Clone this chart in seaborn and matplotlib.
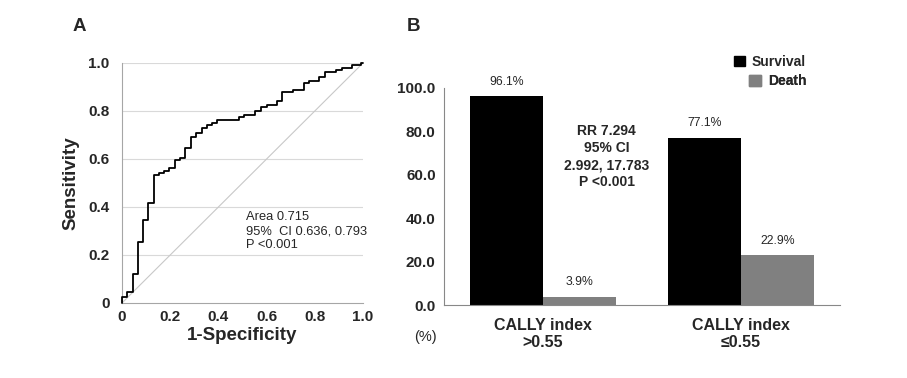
import numpy as np
import pandas as pd
import matplotlib
matplotlib.use("Agg")
import matplotlib.pyplot as plt
import seaborn as sns

sns.set_style("white")
plt.rcParams["font.family"] = ["Liberation Sans", "DejaVu Sans"]

# ---- Panel A: ROC curve ----
fpr = [0.0, 0.0, 0.022, 0.044, 0.068, 0.087, 0.109, 0.134, 0.153, 0.174, 0.197,
       0.220, 0.242, 0.263, 0.287, 0.307, 0.331, 0.352, 0.374, 0.396, 0.487,
       0.508, 0.553, 0.577, 0.600, 0.642, 0.664, 0.708, 0.754, 0.777, 0.818,
       0.842, 0.887, 0.911, 0.956, 0.990, 1.0]
tpr = [0.0, 0.025, 0.044, 0.121, 0.254, 0.346, 0.415, 0.533, 0.543, 0.552, 0.564,
       0.596, 0.606, 0.647, 0.690, 0.710, 0.730, 0.740, 0.751, 0.762, 0.773,
       0.783, 0.802, 0.815, 0.825, 0.842, 0.881, 0.888, 0.918, 0.924, 0.943,
       0.962, 0.971, 0.981, 0.992, 1.0, 1.0]
chance = [0.0, 1.0]
roc_ticks = [0, 0.2, 0.4, 0.6, 0.8, 1.0]
roc_ticklabels = ["0", "0.2", "0.4", "0.6", "0.8", "1.0"]
roc_text = "Area 0.715\n95%  CI 0.636, 0.793\nP <0.001"

# ---- Panel B: outcome by CALLY index ----
groups = ["CALLY index\n>0.55", "CALLY index\n\u22640.55"]
survival = [96.1, 77.1]
death = [3.9, 22.9]
outcomes = ["Survival", "Death"]
bar_colors = {"Survival": "#000000", "Death": "#808080"}
pct_ticks = [0, 20, 40, 60, 80, 100]
rr_text = "RR 7.294\n95% CI\n2.992, 17.783\nP <0.001"

df_roc = pd.DataFrame({"fpr": fpr, "tpr": tpr})
df_bar = pd.DataFrame({
    "group": groups * 2,
    "outcome": ["Survival"] * 2 + ["Death"] * 2,
    "value": survival + death,
})

W, H = 907, 378
fig = plt.figure(figsize=(W / 100, H / 100), dpi=100)

# =================== A ===================
axA = fig.add_axes([122 / W, 1 - 303 / H, 241 / W, 240 / H])
for y in roc_ticks[1:]:
    axA.axhline(y, color="#d9d9d9", lw=0.8, zorder=0)
axA.plot(chance, chance, color="#c8c8c8", lw=0.8, zorder=1)
sns.lineplot(data=df_roc, x="fpr", y="tpr", ax=axA, sort=False, estimator=None,
             drawstyle="steps-post", color="black", lw=1.3, clip_on=False, zorder=3)
axA.set_xlim(0, 1)
axA.set_ylim(0, 1)
axA.set_xticks(roc_ticks)
axA.set_xticklabels(roc_ticklabels)
axA.set_yticks(roc_ticks)
axA.set_yticklabels(roc_ticklabels)
axA.tick_params(axis="both", length=0, labelsize=11)
axA.tick_params(axis="y", pad=9)
axA.tick_params(axis="x", pad=5)
for lab in axA.get_xticklabels() + axA.get_yticklabels():
    lab.set_fontweight("bold")
axA.set_xlabel("1-Specificity", fontsize=13.5, fontweight="bold", labelpad=2)
axA.set_ylabel("Sensitivity", fontsize=13.5, fontweight="bold", labelpad=6)
for s in ["top", "right"]:
    axA.spines[s].set_visible(False)
for s in ["left", "bottom"]:
    axA.spines[s].set_color("#a6a6a6")
    axA.spines[s].set_linewidth(0.8)
axA.text(0.513, 0.30, roc_text, fontsize=9.3, ha="left", va="center",
         linespacing=1.2)

# =================== B ===================
axB = fig.add_axes([444 / W, 1 - 305.3 / H, 396 / W, 217.6 / H])
sns.barplot(data=df_bar, x="group", y="value", hue="outcome", hue_order=outcomes,
            palette=bar_colors, width=0.74, gap=0, ax=axB, linewidth=0,
            legend=False)
for cont in axB.containers:
    axB.bar_label(cont, labels=[f"{b.get_height():.1f}%" for b in cont],
                  padding=6, fontsize=8.8)
axB.set_xlim(-0.5, 1.5)
axB.set_ylim(0, 100)
axB.set_yticks(pct_ticks)
axB.set_yticklabels([f"{v:.1f}" for v in pct_ticks])
axB.set_xticks([0.5 * i - 0.5 for i in range(0, 5, 2)], minor=True)
axB.tick_params(axis="y", length=4, width=0.8, color="#888888", pad=2,
                labelsize=11)
axB.tick_params(axis="x", which="major", length=0, pad=9, labelsize=11.5)
axB.tick_params(axis="x", which="minor", length=4, width=0.8, color="#888888")
for lab in axB.get_xticklabels() + axB.get_yticklabels():
    lab.set_fontweight("bold")
axB.set_xlabel("")
axB.set_ylabel("")
for s in ["top", "right"]:
    axB.spines[s].set_visible(False)
for s in ["left", "bottom"]:
    axB.spines[s].set_color("#888888")
    axB.spines[s].set_linewidth(0.8)
axB.text(0.322, 68.4, rr_text, fontsize=10, fontweight="bold", ha="center",
         va="center", linespacing=1.3)
axB.text(-0.048, -0.146, "(%)", transform=axB.transAxes, fontsize=10.5,
         ha="center", va="center")

# right-aligned legend rows, one legend per outcome
for name, yanc in zip(outcomes, [1.119, 1.031]):
    h = plt.Rectangle((0, 0), 1, 1, color=bar_colors[name])
    leg = axB.legend([h], [name], loc="center right", bbox_to_anchor=(0.932, yanc),
                     frameon=False, borderpad=0, handlelength=0.84,
                     handleheight=0.84, handletextpad=0.48,
                     prop={"weight": "bold", "size": 10})
    axB.add_artist(leg)

fig.text(79.5 / W, 1 - 26.7 / H, "A", fontsize=13.5, fontweight="bold", ha="center", va="center")
fig.text(413 / W, 1 - 26.5 / H, "B", fontsize=13.5, fontweight="bold", ha="center", va="center")

fig.savefig("out.png", dpi=100)
